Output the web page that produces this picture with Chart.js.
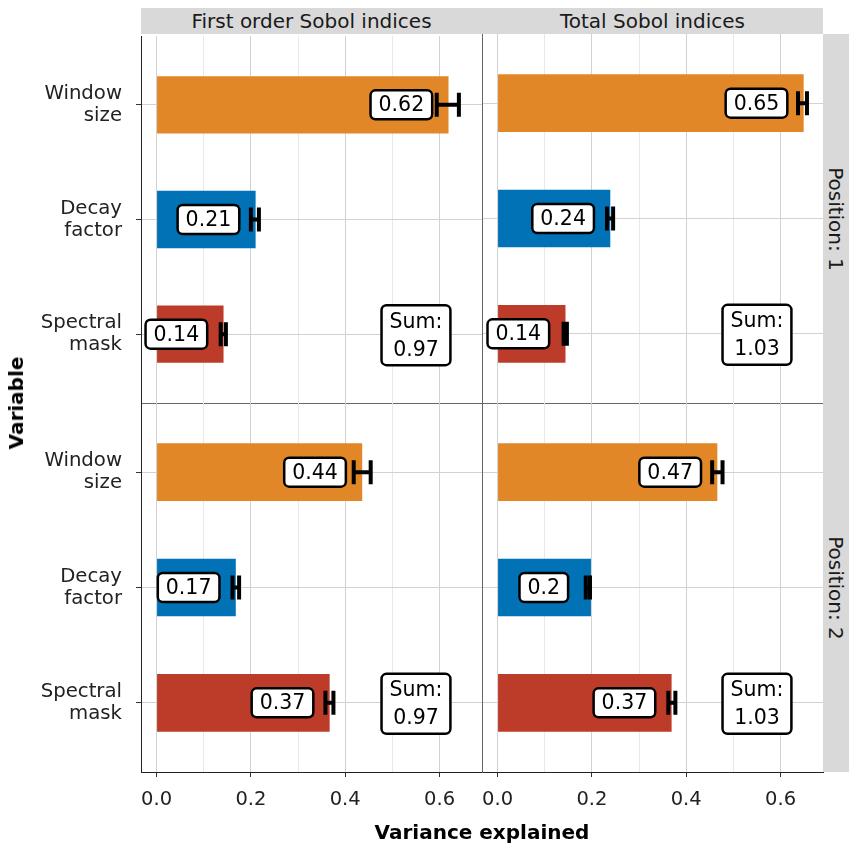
<!DOCTYPE html>
<html>
<head>
<meta charset="utf-8">
<script src="https://cdn.jsdelivr.net/npm/chart.js@4.4.1/dist/chart.umd.min.js"></script>
<style>
  html, body { margin: 0; padding: 0; background: #fff; }
  #wrap { position: relative; width: 850px; height: 850px; font-family: "DejaVu Sans", sans-serif; }
  #wrap canvas { position: absolute; left: 0; top: 0; }
  .strip { position: absolute; background: #d9d9d9; color: #1a1a1a; font-size: 20px;
           display: flex; align-items: center; justify-content: center; white-space: nowrap; }
  .strip.row span { transform: rotate(90deg); }
  .title { position: absolute; font-weight: bold; font-size: 20px; color: #000; white-space: nowrap; }
</style>
</head>
<body>
<div id="wrap">
  <canvas id="c00" width="850" height="850"></canvas>
  <canvas id="c01" width="850" height="850"></canvas>
  <canvas id="c10" width="850" height="850"></canvas>
  <canvas id="c11" width="850" height="850"></canvas>
</div>
<script>
'use strict';
// facette: kolumny = rodzaj indeksu Sobola, wiersze = pozycja

const CATEGORIES = [['Window', 'size'], ['Decay', 'factor'], ['Spectral', 'mask']];
const COLORS = ['#E18727', '#0072B5', '#BC3C29'];
const COL_STRIPS = ['First order Sobol indices', 'Total Sobol indices'];
const ROW_STRIPS = ['Position: 1', 'Position: 2'];
const X_MAJOR = [0, 0.2, 0.4, 0.6];
const X_MINOR = [0.1, 0.3, 0.5];

// Position 1
const first1   = [0.619, 0.210, 0.142];
const first1Lo = [0.594, 0.200, 0.136];
const first1Hi = [0.641, 0.217, 0.147];
const total1   = [0.649, 0.239, 0.144];
const total1Lo = [0.637, 0.232, 0.140];
const total1Hi = [0.656, 0.245, 0.147];
// Position 2
const first2   = [0.436, 0.168, 0.367];
const first2Lo = [0.418, 0.161, 0.358];
const first2Hi = [0.454, 0.175, 0.375];
const total2   = [0.466, 0.198, 0.369];
const total2Lo = [0.455, 0.187, 0.362];
const total2Hi = [0.477, 0.196, 0.377];

// gdzie stoi ramka "Sum:" (jednostki danych)
const SUM_AT = { x: 0.55, row: 2 };
const LABEL_SHIFT = 0.1;   // etykieta wartości wyśrodkowana na (wartość - 0.1)

const PANEL_X = [[141, 482], [482, 823]];
const PANEL_Y = [[34, 403], [403, 772]];
const FONT = '"DejaVu Sans", sans-serif';

function fmt(v) { return String(Math.round(v * 100) / 100); }

function roundRect(ctx, x, y, w, h, r) {
  ctx.beginPath();
  ctx.moveTo(x + r, y);
  ctx.arcTo(x + w, y, x + w, y + h, r);
  ctx.arcTo(x + w, y + h, x, y + h, r);
  ctx.arcTo(x, y + h, x, y, r);
  ctx.arcTo(x, y, x + w, y, r);
  ctx.closePath();
}

function labelBox(ctx, lines, cx, cy, lineH) {
  ctx.font = '20.5px ' + FONT;
  const w = Math.max(...lines.map(t => ctx.measureText(t).width)) + 16;
  const h = lines.length > 1 ? 60 : 29;
  roundRect(ctx, cx - w / 2, cy - h / 2, w, h, 5);
  ctx.fillStyle = '#fff';
  ctx.fill();
  ctx.lineWidth = 2.5;
  ctx.strokeStyle = '#000';
  ctx.stroke();
  ctx.fillStyle = '#000';
  ctx.textAlign = 'center';
  ctx.textBaseline = 'middle';
  lines.forEach((t, i) => ctx.fillText(t, cx, cy - (lines.length - 1) * lineH / 2 + i * lineH + 1));
}

// słupki błędów + etykiety + suma
const overlay = {
  id: 'overlay',
  afterDatasetsDraw(chart) {
    const { ctx } = chart;
    const xs = chart.scales.x, ys = chart.scales.y;
    const ds = chart.data.datasets[0];
    ctx.save();
    ds.data.forEach((p, i) => {
      const y = ys.getPixelForValue(i);
      const x1 = xs.getPixelForValue(ds.lo[i]), x2 = xs.getPixelForValue(ds.hi[i]);
      ctx.strokeStyle = '#000';
      ctx.lineWidth = 4;
      ctx.lineCap = 'butt';
      ctx.beginPath();
      ctx.moveTo(x1, y); ctx.lineTo(x2, y);
      ctx.moveTo(x1, y - 12); ctx.lineTo(x1, y + 12);
      ctx.moveTo(x2, y - 12); ctx.lineTo(x2, y + 12);
      ctx.stroke();
    });
    ds.data.forEach((p, i) => {
      labelBox(ctx, [fmt(p.x)], xs.getPixelForValue(p.x - LABEL_SHIFT), ys.getPixelForValue(i), 28);
    });
    const sum = ds.data.reduce((a, p) => a + p.x, 0);
    labelBox(ctx, ['Sum:', fmt(sum)], xs.getPixelForValue(SUM_AT.x), ys.getPixelForValue(SUM_AT.row) + 1, 28);
    ctx.restore();
  },
};

function panel(id, row, col, vals, lo, hi) {
  const bottomRow = row === 1, leftCol = col === 0;
  new Chart(document.getElementById(id), {
    type: 'bar',
    data: {
      datasets: [{
        data: vals.map((v, i) => ({ x: v, y: i })),
        lo, hi,
        backgroundColor: COLORS,
        barPercentage: 0.5,
        categoryPercentage: 1,
      }],
    },
    plugins: [overlay],
    options: {
      indexAxis: 'y',
      responsive: false,
      animation: false,
      events: [],
      layout: { padding: {
        left: leftCol ? 0 : PANEL_X[1][0],
        right: 850 - PANEL_X[col][1],
        top: PANEL_Y[row][0],
        bottom: bottomRow ? 0 : 850 - PANEL_Y[0][1],
      } },
      plugins: { legend: { display: false }, tooltip: { enabled: false } },
      scales: {
        x: {
          type: 'linear', min: -0.033, max: 0.69,
          afterBuildTicks: s => { s.ticks = [...X_MAJOR, ...X_MINOR].sort().map(v => ({ value: v })); },
          afterFit: s => { s.height = bottomRow ? 78 : 0; },
          ticks: {
            display: bottomRow,
            autoSkip: false, maxRotation: 0,
            padding: 11,
            color: '#222',
            font: { family: FONT, size: 19.5 },
            callback: v => X_MAJOR.includes(v) ? v.toFixed(1) : '',
          },
          grid: {
            color: c => X_MAJOR.includes(c.tick && c.tick.value) ? '#d2d2d2' : '#e8e8e8',
            drawTicks: bottomRow,
            tickLength: 5,
            tickColor: c => X_MAJOR.includes(c.tick && c.tick.value) ? '#333' : 'rgba(0,0,0,0)',
          },
          border: { display: true, color: bottomRow ? '#222' : '#666', width: 1 },
        },
        y: {
          type: 'linear', min: -0.6, max: 2.6, reverse: true,
          offset: false,
          afterBuildTicks: s => { s.ticks = CATEGORIES.map((c, i) => ({ value: i })); },
          afterFit: s => { s.width = leftCol ? PANEL_X[0][0] : 0; },
          ticks: {
            display: leftCol,
            autoSkip: false,
            padding: 14,
            color: '#222',
            font: { family: FONT, size: 19.7, lineHeight: 1.12 },
            callback: v => CATEGORIES[v],
          },
          grid: { offset: false, color: '#d2d2d2', drawTicks: leftCol, tickLength: 5, tickColor: '#333' },
          border: { display: true, color: leftCol ? '#222' : '#666', width: 1 },
        },
      },
    },
  });
}

panel('c00', 0, 0, first1, first1Lo, first1Hi);
panel('c01', 0, 1, total1, total1Lo, total1Hi);
panel('c10', 1, 0, first2, first2Lo, first2Hi);
panel('c11', 1, 1, total2, total2Lo, total2Hi);

// paski facet i tytuły osi
const wrap = document.getElementById('wrap');
function addDiv(cls, text, css) {
  const d = document.createElement('div');
  d.className = cls;
  d.innerHTML = `<span>${text}</span>`;
  Object.assign(d.style, css);
  wrap.appendChild(d);
}
COL_STRIPS.forEach((t, i) => addDiv('strip', t, {
  left: PANEL_X[i][0] + 'px', top: '8px', width: (PANEL_X[i][1] - PANEL_X[i][0]) + 'px', height: '26px' }));
ROW_STRIPS.forEach((t, i) => addDiv('strip row', t, {
  left: '823px', top: PANEL_Y[i][0] + 'px', width: '26px', height: (PANEL_Y[i][1] - PANEL_Y[i][0]) + 'px' }));
addDiv('title', 'Variance explained', { left: '482px', top: '832px', transform: 'translate(-50%,-50%)' });
addDiv('title', 'Variable', { left: '16px', top: '403px', transform: 'translate(-50%,-50%) rotate(-90deg)' });
</script>
</body>
</html>
